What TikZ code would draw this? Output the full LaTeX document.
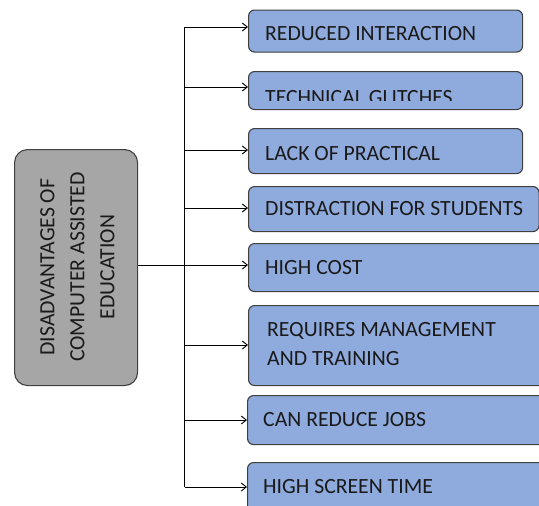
\documentclass[tikz,border=0pt]{standalone}
\usepackage{fontspec}
\setmainfont{Carlito}
\usetikzlibrary{arrows.meta}
\definecolor{boxblue}{HTML}{8FAADC}
\definecolor{boxgray}{HTML}{A6A6A6}
\definecolor{edgegray}{HTML}{3F3F3F}
\definecolor{txt}{HTML}{1A1A1A}
\begin{document}
\begin{tikzpicture}[x=1pt,y=-1pt,
  bluebox/.style={draw=edgegray,line width=1.1pt,fill=boxblue,rounded corners=6pt,inner sep=0pt,anchor=north west},
  graybox/.style={draw=edgegray,line width=1.1pt,fill=boxgray,rounded corners=13pt,inner sep=0pt,anchor=north west},
  lbl/.style={anchor=base west,inner sep=0pt,text=txt,font=\fontsize{21.7}{25}\selectfont},
  conn/.style={line width=0.9pt,black},
  arr/.style={conn,-{Straight Barb[length=5pt,width=8pt,line width=0.9pt]}}
]
\useasboundingbox (0,0) rectangle (539,506);
% main box
\node[graybox,minimum width=123pt,minimum height=236pt] (main) at (14,149) {};
\node[rotate=90,align=center,text=txt,inner sep=0pt,font=\fontsize{21.7}{30}\selectfont] (maintxt) at (77.5,267) {DISADVANTAGES OF\\COMPUTER ASSISTED\\EDUCATION};
% blue boxes
\node[bluebox,minimum width=274pt,minimum height=42pt] (b1) at (248,9.5) {};
\node[bluebox,minimum width=274pt,minimum height=38pt] (b2) at (248,71) {};
\node[bluebox,minimum width=274pt,minimum height=45pt] (b3) at (248,128) {};
\node[bluebox,minimum width=290.5pt,minimum height=45pt] (b4) at (248,186) {};
\node[bluebox,minimum width=297pt,minimum height=48pt] (b5) at (248,243) {};
\node[bluebox,minimum width=297pt,minimum height=80pt] (b6) at (248,305) {};
\node[bluebox,minimum width=298pt,minimum height=49pt] (b7) at (247,395) {};
\node[bluebox,minimum width=298pt,minimum height=60pt] (b8) at (247,462) {};
% labels
\node[lbl] (l1) at (265,40) {REDUCED INTERACTION};
\begin{scope}
\clip (250,72) rectangle (520,100.5);
\node[lbl] (l2) at (265,104) {TECHNICAL GLITCHES};
\end{scope}
\node[lbl] (l3) at (265,160) {LACK OF PRACTICAL};
\node[lbl] (l4) at (265,215) {DISTRACTION FOR STUDENTS};
\node[lbl] (l5) at (265,274) {HIGH COST};
\node[lbl] (l6a) at (267,336) {REQUIRES MANAGEMENT};
\node[lbl] (l6b) at (267,365) {AND TRAINING};
\node[lbl] (l7) at (263,426) {CAN REDUCE JOBS};
\node[lbl] (l8) at (263,493) {HIGH SCREEN TIME};
% trunk
\coordinate (t1) at (184.5,27);
\coordinate (t2) at (184.5,87);
\coordinate (t3) at (184.5,150);
\coordinate (t4) at (184.5,208);
\coordinate (t5) at (184.5,265);
\coordinate (t6) at (184.5,345);
\coordinate (t7) at (184.5,420);
\coordinate (t8) at (184.5,487);
\draw[conn] (t1) -- (t8);
\draw[conn] (main.east |- t5) -- (t5);
\draw[arr] (t1) -- (t1 -| b1.west);
\draw[arr] (t2) -- (t2 -| b2.west);
\draw[arr] (t3) -- (t3 -| b3.west);
\draw[arr] (t4) -- (t4 -| b4.west);
\draw[arr] (t5) -- (t5 -| b5.west);
\draw[arr] (t6) -- (t6 -| b6.west);
\draw[arr] (t7) -- (t7 -| b7.west);
\draw[arr] (t8) -- (t8 -| b8.west);
\end{tikzpicture}
\end{document}
